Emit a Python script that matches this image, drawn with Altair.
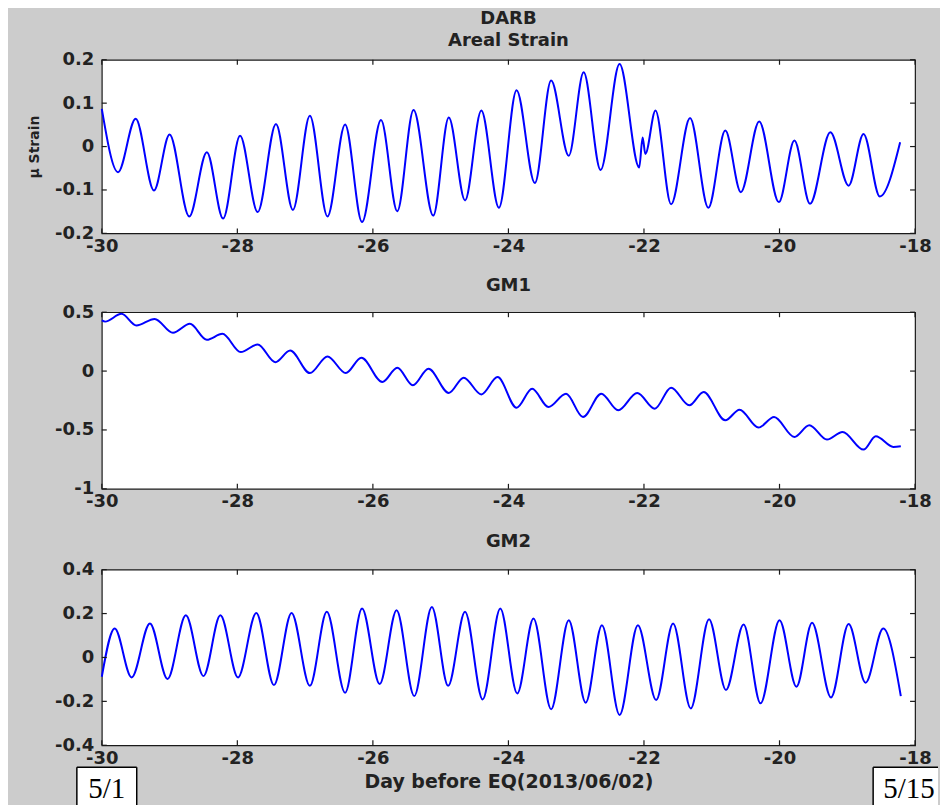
import altair as alt
import pandas as pd

# ---------------- data ----------------
x_ticks = [-30, -28, -26, -24, -22, -20, -18]

# DARB areal strain (turning points of the trace)
t1 = [-30.00, -29.76, -29.50, -29.23, -29.00, -28.71, -28.45, -28.21, -27.96, -27.70,
      -27.43, -27.18, -26.93, -26.67, -26.41, -26.16, -25.88, -25.64, -25.40, -25.11,
      -24.88, -24.64, -24.40, -24.14, -23.88, -23.61, -23.37, -23.11, -22.89, -22.64,
      -22.36, -22.07, -22.02, -21.98, -21.83, -21.60, -21.32, -21.05, -20.80, -20.57,
      -20.30, -20.01, -19.78, -19.55, -19.25, -18.98, -18.76, -18.52, -18.22]
v1 = [0.087, -0.059, 0.064, -0.101, 0.028, -0.161, -0.013, -0.166, 0.025, -0.151,
      0.052, -0.146, 0.071, -0.161, 0.051, -0.174, 0.061, -0.149, 0.084, -0.159,
      0.067, -0.124, 0.083, -0.141, 0.130, -0.084, 0.152, -0.021, 0.171, -0.054,
      0.190, -0.048, 0.021, -0.017, 0.083, -0.133, 0.066, -0.141, 0.037, -0.105,
      0.058, -0.128, 0.014, -0.132, 0.033, -0.090, 0.029, -0.115, 0.010]

# GM1
t2 = [-30.00, -29.95, -29.71, -29.49, -29.22, -28.95, -28.70, -28.45, -28.22, -27.95,
      -27.70, -27.44, -27.22, -26.93, -26.67, -26.40, -26.17, -25.86, -25.64, -25.41,
      -25.18, -24.88, -24.66, -24.40, -24.16, -23.88, -23.65, -23.41, -23.15, -22.90,
      -22.63, -22.38, -22.10, -21.84, -21.60, -21.33, -21.12, -20.80, -20.59, -20.31,
      -20.08, -19.78, -19.56, -19.30, -19.07, -18.76, -18.58, -18.32, -18.21]
v2 = [0.430, 0.420, 0.486, 0.387, 0.443, 0.325, 0.401, 0.266, 0.316, 0.161,
      0.226, 0.076, 0.175, -0.017, 0.124, -0.017, 0.113, -0.093, 0.028, -0.121,
      0.020, -0.186, -0.056, -0.198, -0.051, -0.311, -0.150, -0.305, -0.192, -0.390,
      -0.192, -0.333, -0.186, -0.319, -0.141, -0.291, -0.178, -0.418, -0.328, -0.480,
      -0.390, -0.559, -0.460, -0.582, -0.517, -0.667, -0.554, -0.644, -0.638]

# GM2
t3 = [-30.00, -29.81, -29.56, -29.29, -29.03, -28.76, -28.50, -28.25, -27.99, -27.72,
      -27.46, -27.20, -26.93, -26.68, -26.41, -26.16, -25.90, -25.65, -25.39, -25.13,
      -24.89, -24.64, -24.38, -24.12, -23.87, -23.63, -23.37, -23.11, -22.86, -22.62,
      -22.36, -22.09, -21.82, -21.57, -21.31, -21.04, -20.79, -20.53, -20.28, -20.00,
      -19.75, -19.52, -19.24, -18.98, -18.73, -18.47, -18.21]
v3 = [-0.088, 0.132, -0.091, 0.155, -0.098, 0.192, -0.085, 0.192, -0.091, 0.203,
      -0.126, 0.203, -0.129, 0.208, -0.161, 0.223, -0.121, 0.215, -0.176, 0.230,
      -0.129, 0.208, -0.191, 0.223, -0.164, 0.177, -0.236, 0.170, -0.206, 0.147,
      -0.262, 0.147, -0.194, 0.155, -0.232, 0.174, -0.148, 0.150, -0.209, 0.170,
      -0.133, 0.158, -0.182, 0.152, -0.115, 0.132, -0.176]

y1_ticks = [-0.2, -0.1, 0, 0.1, 0.2]
y2_ticks = [-1, -0.5, 0, 0.5]
y3_ticks = [-0.4, -0.2, 0, 0.2, 0.4]

titles = [["DARB", "Areal Strain"], "GM1", "GM2"]
y_title = "\u03bc Strain"
x_title = "Day before EQ(2013/06/02)"
box_labels = ["5/1", "5/15"]

# ---------------- styling ----------------
W = 815
FONT = "DejaVu Sans"
FRAME = "#1a1a1a"
TXT = "#222222"
MINUS = "replace(datum.label, '\u2212', '-')"
TICK = 5


def panel(t, v, ydom, yticks, h, title, ytitle=None, xtitle=None, toff=8):
    xs = alt.Scale(domain=[-30, -18], nice=False, zero=False)
    ys = alt.Scale(domain=ydom, nice=False, zero=False)
    xaxis = alt.Axis(values=x_ticks, ticks=False, domain=False, grid=False,
                     labelFlush=False, labelPadding=4, labelExpr=MINUS, format="~g",
                     title=xtitle, titlePadding=5)
    yaxis = alt.Axis(values=yticks, ticks=False, domain=False, grid=False,
                     labelPadding=8, labelExpr=MINUS, format="~g", title=ytitle,
                     titlePadding=13, titleFontSize=14)
    df = pd.DataFrame({"t": t, "v": v})
    X = alt.X("t:Q", scale=xs, axis=xaxis)
    Y = alt.Y("v:Q", scale=ys, axis=yaxis)
    line = alt.Chart(df).mark_line(color="#0000ff", strokeWidth=2,
                                   interpolate="monotone").encode(x=X, y=Y)
    xt = pd.DataFrame({"t": x_ticks})
    yt = pd.DataFrame({"v": yticks})
    top = alt.Chart(xt).mark_rule(color=FRAME, strokeWidth=1.2).encode(
        x=X, y=alt.value(0), y2=alt.value(TICK))
    bot = alt.Chart(xt).mark_rule(color=FRAME, strokeWidth=1.2).encode(
        x=X, y=alt.value(h - TICK), y2=alt.value(h))
    left = alt.Chart(yt).mark_rule(color=FRAME, strokeWidth=1.2).encode(
        y=Y, x=alt.value(0), x2=alt.value(TICK))
    right = alt.Chart(yt).mark_rule(color=FRAME, strokeWidth=1.2).encode(
        y=Y, x=alt.value(W - TICK), x2=alt.value(W))
    layers = [line, top, bot, left, right]
    return layers, alt.TitleParams(text=title, offset=toff, lineHeight=22)


def box(label, x0, x1, cx, with_right):
    d = pd.DataFrame({"label": [label]})
    yb0, yb1 = 198, 236
    parts = [
        alt.Chart(d).mark_rect(fill="white").encode(
            x=alt.value(x0), x2=alt.value(x1), y=alt.value(yb0), y2=alt.value(yb1)),
        alt.Chart(d).mark_rule(color="black", strokeWidth=1.5).encode(
            x=alt.value(x0), x2=alt.value(x1), y=alt.value(yb0)),
        alt.Chart(d).mark_rule(color="black", strokeWidth=1.5).encode(
            x=alt.value(x0), y=alt.value(yb0), y2=alt.value(yb1)),
        alt.Chart(d).mark_text(font="Liberation Serif", fontSize=29, color="black",
                               align="center", baseline="alphabetic").encode(
            x=alt.value(cx), y=alt.value(229), text="label:N"),
    ]
    if with_right:
        parts.append(alt.Chart(d).mark_rule(color="black", strokeWidth=1.5).encode(
            x=alt.value(x1), y=alt.value(yb0), y2=alt.value(yb1)))
    return parts


l1, ti1 = panel(t1, v1, [-0.2, 0.2], y1_ticks, 174, titles[0], ytitle=y_title, toff=1)
l2, ti2 = panel(t2, v2, [-1, 0.5], y2_ticks, 177, titles[1])
l3, ti3 = panel(t3, v3, [-0.4, 0.4], y3_ticks, 176, titles[2], xtitle=x_title, toff=10)
l3 += box(box_labels[0], -25, 35, 5, True)
l3 += box(box_labels[1], 773, 838, 809, False)

p1 = alt.layer(*l1).properties(width=W, height=174, title=ti1)
p2 = alt.layer(*l2).properties(width=W, height=177, title=ti2)
p3 = alt.layer(*l3).properties(width=W, height=176, title=ti3)

chart = alt.vconcat(p1, p2, p3, spacing=20).properties(
    padding={"left": 19, "top": 0, "right": 0, "bottom": 0},
    background="#cccccc",
).configure_view(
    fill="white", stroke=FRAME, strokeWidth=1.2
).configure_axis(
    labelFont=FONT, labelFontSize=18, labelFontWeight="bold", labelColor=TXT,
    titleFont=FONT, titleFontSize=19, titleFontWeight="bold", titleColor=TXT,
).configure_title(
    font=FONT, fontSize=18, fontWeight="bold", color=TXT, anchor="middle"
)

chart.save("out.html", embed_options={"renderer": "svg", "actions": False})
